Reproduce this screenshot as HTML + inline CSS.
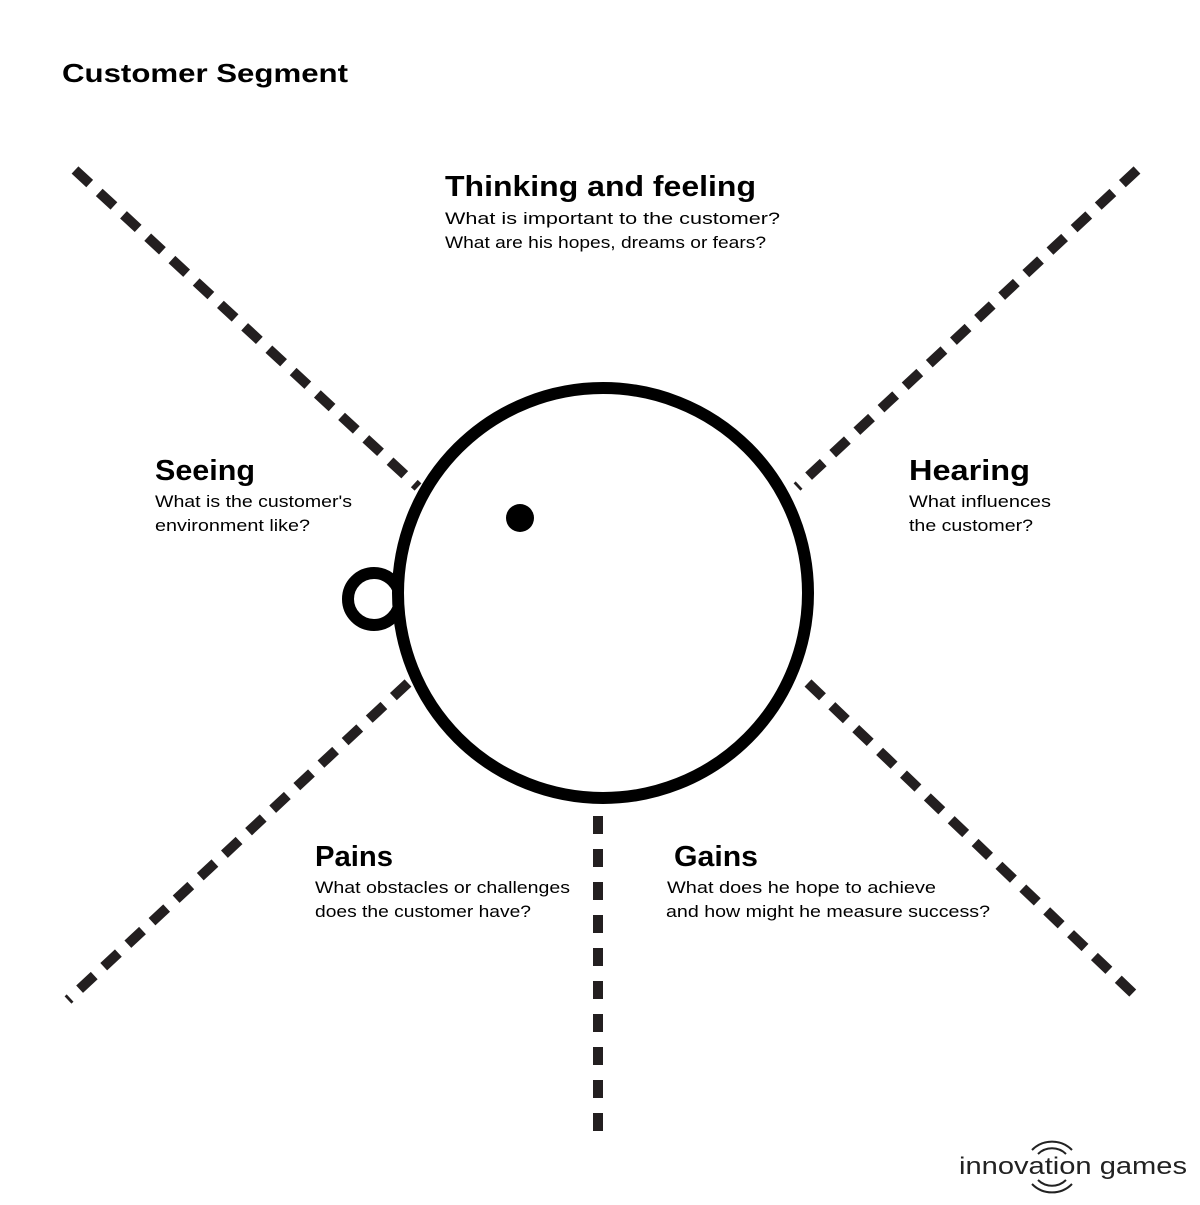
<!DOCTYPE html>
<html><head><style>html,body{margin:0;padding:0;background:#fff}</style></head>
<body>
<svg width="1200" height="1200" viewBox="0 0 1200 1200" xmlns="http://www.w3.org/2000/svg" font-family="Liberation Sans, sans-serif">
<rect width="1200" height="1200" fill="#fff"/>
<g stroke="#231f20" stroke-width="10" stroke-dasharray="20 13" fill="none">
<line x1="75" y1="170" x2="418" y2="487"/>
<line x1="1137" y1="170" x2="797" y2="487"/>
<line x1="408" y1="683" x2="68" y2="1000"/>
<line x1="808" y1="683" x2="1140" y2="1000"/>
<line x1="598" y1="816" x2="598" y2="1145" stroke-dasharray="18 15"/>
</g>
<circle cx="374" cy="599" r="26" fill="none" stroke="#000" stroke-width="12"/>
<circle cx="603" cy="593" r="205" fill="#fff" stroke="#000" stroke-width="12"/>
<circle cx="520" cy="518" r="14" fill="#000"/>
<g fill="#000">
<text x="62" y="82" font-size="26" font-weight="bold" textLength="286" lengthAdjust="spacingAndGlyphs">Customer Segment</text>
<text x="445" y="196" font-size="29" font-weight="bold" textLength="311" lengthAdjust="spacingAndGlyphs">Thinking and feeling</text>
<text x="445" y="224" font-size="17" textLength="335" lengthAdjust="spacingAndGlyphs">What is important to the customer?</text>
<text x="445" y="248" font-size="17" textLength="321" lengthAdjust="spacingAndGlyphs">What are his hopes, dreams or fears?</text>
<text x="155" y="480" font-size="29" font-weight="bold" textLength="100" lengthAdjust="spacingAndGlyphs">Seeing</text>
<text x="155" y="507" font-size="17" textLength="197" lengthAdjust="spacingAndGlyphs">What is the customer's</text>
<text x="155" y="531" font-size="17" textLength="155" lengthAdjust="spacingAndGlyphs">environment like?</text>
<text x="909" y="480" font-size="29" font-weight="bold" textLength="121" lengthAdjust="spacingAndGlyphs">Hearing</text>
<text x="909" y="507" font-size="17" textLength="142" lengthAdjust="spacingAndGlyphs">What influences</text>
<text x="909" y="531" font-size="17" textLength="124" lengthAdjust="spacingAndGlyphs">the customer?</text>
<text x="315" y="866" font-size="29" font-weight="bold" textLength="78" lengthAdjust="spacingAndGlyphs">Pains</text>
<text x="315" y="893" font-size="17" textLength="255" lengthAdjust="spacingAndGlyphs">What obstacles or challenges</text>
<text x="315" y="917" font-size="17" textLength="216" lengthAdjust="spacingAndGlyphs">does the customer have?</text>
<text x="674" y="866" font-size="29" font-weight="bold" textLength="84" lengthAdjust="spacingAndGlyphs">Gains</text>
<text x="667" y="893" font-size="17" textLength="269" lengthAdjust="spacingAndGlyphs">What does he hope to achieve</text>
<text x="666" y="917" font-size="17" textLength="324" lengthAdjust="spacingAndGlyphs">and how might he measure success?</text>
<text x="959" y="1174" font-size="24" fill="#222" textLength="228" lengthAdjust="spacingAndGlyphs">innovation games</text>
</g>
<g fill="none" stroke="#222" stroke-width="2">
<path d="M1038 1154 a20 20 0 0 1 28 0"/>
<path d="M1032 1150 a28 28 0 0 1 40 0"/>
<path d="M1038 1180 a20 20 0 0 0 28 0"/>
<path d="M1032 1184 a28 28 0 0 0 40 0"/>
</g>
</svg>
</body></html>
